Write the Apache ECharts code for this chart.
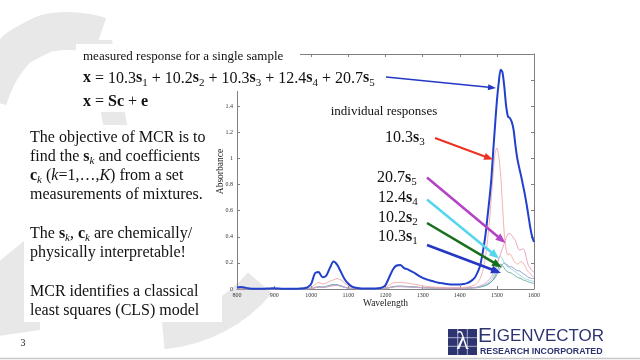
<!DOCTYPE html>
<html><head><meta charset="utf-8">
<script src="https://cdn.jsdelivr.net/npm/echarts/dist/echarts.min.js"></script>
<style>html,body{margin:0;padding:0;background:#fff}#c{width:640px;height:360px}</style>
</head><body><div id="c"></div>
<script>
// ---- data ----
const wavelength = [800,810,820,830,840,850,860,870,880,890,900,910,920,930,940,950,960,970,980,990,
 1000,1010,1020,1030,1040,1050,1060,1070,1080,1090,1100,1110,1120,1130,1140,1150,1160,1170,1180,1190,
 1200,1210,1220,1230,1240,1250,1260,1270,1280,1290,1300,1310,1320,1330,1340,1350,1360,1370,1380,1390,
 1400,1410,1420,1430,1440,
 1445,1450,1455,1460,1465,1470,1475,1480,1485,1490,1495,1500,1505,1510,1515,1520,1525,1530,1535,1540,
 1545,1550,1555,1560,1565,1570,1575,1580,1585,1590,1595,1600];

const measured = [0.012,0.015,0.012,0.005,0.002,0.001,0.001,0.002,0.003,0.004,0.006,0.004,0.002,0.001,0.001,0.001,0.002,0.003,0.005,0.012,
 0.04,0.12,0.13,0.09,0.1,0.16,0.21,0.185,0.13,0.075,0.04,0.018,0.009,0.005,0.003,0.003,0.003,0.004,0.005,0.01,
 0.03,0.09,0.15,0.18,0.183,0.16,0.15,0.135,0.12,0.1,0.085,0.075,0.065,0.058,0.05,0.045,0.04,0.037,0.035,0.034,
 0.035,0.038,0.045,0.06,0.085,
 0.11,0.14,0.18,0.25,0.33,0.43,0.56,0.69,0.84,1.05,1.25,1.44,1.58,1.68,1.66,1.55,1.4,1.32,1.31,1.28,
 1.22,1.1,1.0,0.93,0.87,0.8,0.73,0.65,0.56,0.47,0.4,0.36];

const s3 = [0.002,0.002,0.002,0.001,0.001,0.001,0.001,0.001,0.001,0.001,0.002,0.001,0.001,0.001,0.001,0.001,0.001,0.001,0.002,0.004,
 0.012,0.035,0.05,0.04,0.045,0.06,0.07,0.08,0.07,0.045,0.025,0.01,0.005,0.003,0.002,0.002,0.002,0.003,0.003,0.005,
 0.012,0.03,0.045,0.05,0.05,0.048,0.045,0.04,0.035,0.03,0.025,0.02,0.017,0.015,0.013,0.012,0.011,0.01,0.01,0.01,
 0.01,0.012,0.015,0.02,0.03,
 0.04,0.055,0.08,0.12,0.18,0.26,0.38,0.52,0.7,0.88,1.04,1.08,1.02,0.88,0.65,0.42,0.3,0.26,0.27,0.25,
 0.22,0.2,0.19,0.2,0.21,0.2,0.18,0.15,0.13,0.12,0.1,0.09];

const s5 = [0.001,0.001,0.001,0.001,0.001,0.001,0.001,0.001,0.001,0.001,0.001,0.001,0.001,0.001,0.001,0.001,0.001,0.001,0.001,0.001,
 0.003,0.01,0.015,0.012,0.014,0.02,0.025,0.028,0.022,0.014,0.008,0.004,0.002,0.001,0.001,0.001,0.001,0.001,0.001,0.002,
 0.004,0.01,0.015,0.018,0.018,0.017,0.016,0.015,0.013,0.011,0.01,0.009,0.008,0.007,0.006,0.006,0.005,0.005,0.005,0.005,
 0.005,0.006,0.007,0.009,0.012,
 0.015,0.019,0.024,0.03,0.038,0.048,0.06,0.075,0.095,0.12,0.15,0.19,0.23,0.27,0.31,0.35,0.39,0.42,0.425,0.41,
 0.39,0.37,0.33,0.3,0.3,0.31,0.29,0.23,0.18,0.16,0.14,0.13];

const s1 = [0.001,0.001,0.001,0.001,0.001,0.001,0.001,0.001,0.001,0.001,0.001,0.001,0.001,0.001,0.001,0.001,0.001,0.001,0.001,0.001,
 0.003,0.01,0.015,0.013,0.018,0.026,0.032,0.03,0.022,0.013,0.007,0.003,0.002,0.001,0.001,0.001,0.001,0.001,0.001,0.002,
 0.004,0.01,0.016,0.02,0.02,0.019,0.018,0.016,0.014,0.012,0.01,0.009,0.008,0.007,0.006,0.006,0.005,0.005,0.005,0.005,
 0.005,0.006,0.007,0.008,0.01,
 0.012,0.014,0.017,0.02,0.025,0.03,0.037,0.045,0.055,0.068,0.085,0.11,0.14,0.17,0.19,0.2,0.19,0.18,0.17,0.17,
 0.16,0.15,0.14,0.14,0.13,0.12,0.11,0.1,0.09,0.085,0.08,0.08];

const s2 = [0.001,0.001,0.001,0.001,0.001,0.001,0.001,0.001,0.001,0.001,0.001,0.001,0.001,0.001,0.001,0.001,0.001,0.001,0.001,0.001,
 0.003,0.012,0.017,0.014,0.02,0.028,0.035,0.033,0.024,0.014,0.007,0.003,0.002,0.001,0.001,0.001,0.001,0.001,0.001,0.002,
 0.004,0.011,0.018,0.022,0.022,0.021,0.019,0.017,0.015,0.013,0.011,0.01,0.009,0.008,0.007,0.006,0.006,0.005,0.005,0.005,
 0.005,0.006,0.007,0.008,0.009,
 0.01,0.012,0.015,0.018,0.022,0.027,0.033,0.042,0.055,0.07,0.1,0.13,0.17,0.19,0.18,0.16,0.14,0.13,0.125,0.12,
 0.11,0.1,0.09,0.085,0.08,0.07,0.065,0.06,0.055,0.05,0.045,0.045];

const s4 = [0.001,0.001,0.001,0.001,0.001,0.001,0.001,0.001,0.001,0.001,0.001,0.001,0.001,0.001,0.001,0.001,0.001,0.001,0.001,0.001,
 0.003,0.011,0.016,0.013,0.018,0.025,0.03,0.028,0.02,0.012,0.006,0.003,0.002,0.001,0.001,0.001,0.001,0.001,0.001,0.002,
 0.004,0.01,0.015,0.018,0.018,0.017,0.016,0.014,0.012,0.011,0.01,0.009,0.008,0.007,0.006,0.006,0.005,0.005,0.005,0.005,
 0.005,0.006,0.007,0.009,0.011,
 0.012,0.015,0.018,0.022,0.028,0.035,0.045,0.055,0.07,0.095,0.13,0.18,0.23,0.25,0.23,0.2,0.18,0.17,0.16,0.15,
 0.14,0.13,0.12,0.11,0.1,0.09,0.08,0.075,0.07,0.065,0.06,0.06];

const xTicks = {min: 800, max: 1600, step: 100};
const yTicks = {min: 0, max: 1.8, step: 0.2};

// ---- chart ----
const chart = echarts.init(document.getElementById('c'), null, {renderer: 'canvas'});
const pair = arr => wavelength.map((w, i) => [w, arr[i]]);
const serif = 'Liberation Serif, Times New Roman, serif';
const axisCol = '#808080';
const wm = '#e8e8e8';

function comp(name, arr, color, w) {
  return {name, type: 'line', data: pair(arr), showSymbol: false, smooth: 0.25,
    lineStyle: {color, width: w}, itemStyle: {color}, z: 2, silent: true};
}

function arrow(x1, y1, x2, y2, color, w, hl, hw) {
  const dx = x2 - x1, dy = y2 - y1, L = Math.hypot(dx, dy);
  const ux = dx / L, uy = dy / L, px = -uy, py = ux;
  const bx = x2 - ux * hl, by = y2 - uy * hl;
  return [
    {type: 'line', shape: {x1, y1, x2: bx + ux, y2: by + uy}, style: {stroke: color, lineWidth: w}, z: 30, silent: true},
    {type: 'polygon', shape: {points: [[x2, y2], [bx + px * hw / 2, by + py * hw / 2], [bx - px * hw / 2, by - py * hw / 2]]},
      style: {fill: color}, z: 30, silent: true}
  ];
}

function richText(x, y, text, lh, va) {
  lh = lh || 20;
  const base = {fontSize: 16, lineHeight: lh, fontFamily: serif, fill: '#111'};
  return {type: 'text', x, y, z: 31, silent: true,
    style: Object.assign({}, base, {text, verticalAlign: va || 'middle', align: 'left',
      rich: {
        b: Object.assign({}, base, {fontWeight: 'bold'}),
        i: Object.assign({}, base, {fontStyle: 'italic'}),
        sub: {fontSize: 11, lineHeight: 11, verticalAlign: 'bottom', fontFamily: serif, fill: '#111'},
        subi: {fontSize: 11, lineHeight: 11, verticalAlign: 'bottom', fontFamily: serif, fill: '#111', fontStyle: 'italic'}
      }})};
}

const graphics = [
  // background watermark pieces
  {type: 'polyline', shape: {points: [[-12, 100], [6, 62], [32, 40], [65, 31], [100, 36]], smooth: 0.5},
    style: {stroke: wm, lineWidth: 38, fill: null}, z: -10, silent: true},
  {type: 'polygon', shape: {points: [[88, 40], [112, 40], [128, 130], [104, 130]]}, style: {fill: wm}, z: -10, silent: true},
  {type: 'polygon', shape: {points: [[-2, 262], [40, 228], [40, 330], [-2, 336]]}, style: {fill: wm}, z: -10, silent: true},
  {type: 'sector', shape: {cx: 150, cy: 190, r: 160, r0: 128, startAngle: 0.7, endAngle: 1.48, clockwise: true},
    style: {fill: wm}, z: -10, silent: true},
  {type: 'rect', shape: {x: 24, y: 125, width: 198, height: 197}, style: {fill: '#fff'}, z: -9, silent: true},
  // white text boxes over the figure
  {type: 'rect', shape: {x: 76, y: 44, width: 224, height: 47}, style: {fill: '#fff'}, z: 20, silent: true},
  {type: 'rect', shape: {x: 76, y: 91, width: 84, height: 21}, style: {fill: '#fff'}, z: 20, silent: true},
  {type: 'rect', shape: {x: 300, y: 64, width: 92, height: 24}, style: {fill: '#fff'}, z: 20, silent: true},
  // bottom rule of slide
  {type: 'line', shape: {x1: 0, y1: 358.5, x2: 640, y2: 358.5}, style: {stroke: '#c8c8c8', lineWidth: 1.5}, z: 5, silent: true},

  {type: 'text', x: 83, y: 56.7, z: 31, silent: true,
    style: {text: 'measured response for a single sample', fontSize: 13, fontFamily: serif, fill: '#111', verticalAlign: 'middle'}},
  richText(83, 78.3, '{b|x} = 10.3{b|s}{sub|1} + 10.2{b|s}{sub|2} + 10.3{b|s}{sub|3} + 12.4{b|s}{sub|4} + 20.7{b|s}{sub|5}'),
  richText(83, 101.7, '{b|x} = {b|Sc} + {b|e}'),

  richText(30, 128, 'The objective of MCR is to\nfind the {b|s}{subi|k} and coefficients\n{b|c}{subi|k} ({i|k}=1,…,{i|K}) from a set\nmeasurements of mixtures.', 19.2, 'top'),
  richText(30, 224, 'The {b|s}{subi|k}, {b|c}{subi|k} are chemically/\nphysically interpretable!', 19.2, 'top'),
  richText(30, 282, 'MCR identifies a classical\nleast squares (CLS) model', 19.2, 'top'),
  {type: 'text', x: 23, y: 343.5, z: 31, silent: true,
    style: {text: '3', fontSize: 10, fontFamily: serif, fill: '#222', align: 'center', verticalAlign: 'middle'}},

  {type: 'text', x: 384, y: 111.7, z: 31, silent: true,
    style: {text: 'individual responses', fontSize: 13, fontFamily: serif, fill: '#111', align: 'center', verticalAlign: 'middle'}},
  richText(385, 138, '10.3{b|s}{sub|3}'),
  richText(377, 178, '20.7{b|s}{sub|5}'),
  richText(378, 198, '12.4{b|s}{sub|4}'),
  richText(378, 218, '10.2{b|s}{sub|2}'),
  richText(378, 237, '10.3{b|s}{sub|1}'),

  ...arrow(386, 77, 496, 88, '#2438c8', 1.6, 8, 6),
  ...arrow(435, 138, 493, 159.5, '#ec3323', 2, 9, 7),
  ...arrow(427, 177.5, 505.5, 243, '#b543c6', 2.6, 10, 8),
  ...arrow(427, 199.5, 499, 258.5, '#55d6ec', 2.6, 10, 8),
  ...arrow(427, 223, 502, 267.5, '#19701c', 2.6, 10, 8),
  ...arrow(427, 245, 501, 273, '#2436c4', 2.6, 10, 8),

  // logo
  {type: 'rect', shape: {x: 448, y: 329, width: 29, height: 26}, style: {fill: '#2e3470'}, z: 31, silent: true},
  {type: 'line', shape: {x1: 457.7, y1: 329, x2: 457.7, y2: 355}, style: {stroke: '#c9cce0', lineWidth: 0.8}, z: 31, silent: true},
  {type: 'line', shape: {x1: 467.3, y1: 329, x2: 467.3, y2: 355}, style: {stroke: '#c9cce0', lineWidth: 0.8}, z: 31, silent: true},
  {type: 'line', shape: {x1: 448, y1: 337.7, x2: 477, y2: 337.7}, style: {stroke: '#c9cce0', lineWidth: 0.8}, z: 31, silent: true},
  {type: 'line', shape: {x1: 448, y1: 346.3, x2: 477, y2: 346.3}, style: {stroke: '#c9cce0', lineWidth: 0.8}, z: 31, silent: true},
  {type: 'text', x: 462.5, y: 342.5, z: 32, silent: true,
    style: {text: 'λ', fontSize: 26, fontFamily: serif, fill: '#fff', align: 'center', verticalAlign: 'middle'}},
  {type: 'text', x: 478, y: 346.5, z: 31, silent: true,
    style: {text: '{big|E}IGENVECTOR', fontSize: 17, fontFamily: 'Liberation Sans, sans-serif', fill: '#2e3470', verticalAlign: 'bottom',
      rich: {big: {fontSize: 21, fontFamily: 'Liberation Sans, sans-serif', fill: '#2e3470'}}}},
  {type: 'text', x: 480, y: 351.5, z: 31, silent: true,
    style: {text: 'RESEARCH INCORPORATED', fontSize: 8.8, fontWeight: 'bold', fontFamily: 'Liberation Sans, sans-serif', fill: '#2e3470', verticalAlign: 'middle'}}
];

const axisCommon = {
  type: 'value', axisLine: {show: true, onZero: false, lineStyle: {color: axisCol, width: 1}},
  axisTick: {show: true, inside: true, length: 3, lineStyle: {color: axisCol}},
  splitLine: {show: false}
};

chart.setOption({
  animation: false,
  backgroundColor: 'transparent',
  grid: {left: 237, right: 106, top: 54, bottom: 71, containLabel: false},
  xAxis: [
    Object.assign({}, axisCommon, {min: xTicks.min, max: xTicks.max, interval: xTicks.step, position: 'bottom',
      axisLabel: {fontSize: 6, fontFamily: serif, color: '#333', margin: 3, formatter: v => String(v)},
      name: 'Wavelength', nameLocation: 'middle', nameGap: 9, nameMoveOverlap: false,
      nameTextStyle: {fontSize: 9.5, fontFamily: serif, color: '#222'}}),
    Object.assign({}, axisCommon, {min: xTicks.min, max: xTicks.max, interval: xTicks.step, position: 'top',
      axisLabel: {show: false}})
  ],
  yAxis: [
    Object.assign({}, axisCommon, {min: yTicks.min, max: yTicks.max, interval: yTicks.step, position: 'left',
      axisLabel: {fontSize: 6, fontFamily: serif, color: '#333', margin: 4, formatter: v => String(+v.toFixed(1))},
      name: 'Absorbance', nameLocation: 'middle', nameGap: 12, nameRotate: 90, nameMoveOverlap: false,
      nameTextStyle: {fontSize: 9.5, fontFamily: serif, color: '#222'}}),
    Object.assign({}, axisCommon, {min: yTicks.min, max: yTicks.max, interval: yTicks.step, position: 'right',
      axisLabel: {show: false}})
  ],
  series: [
    comp('10.3 s1', s1, '#7d93c6', 0.9),
    comp('10.2 s2', s2, '#5ea592', 0.9),
    comp('12.4 s4', s4, '#8fd0de', 0.9),
    comp('20.7 s5', s5, '#e39ac0', 0.9),
    comp('10.3 s3', s3, '#f2a7a7', 0.9),
    comp('measured x', measured, '#2140cc', 2)
  ],
  graphic: {elements: graphics}
});
</script>
</body></html>
